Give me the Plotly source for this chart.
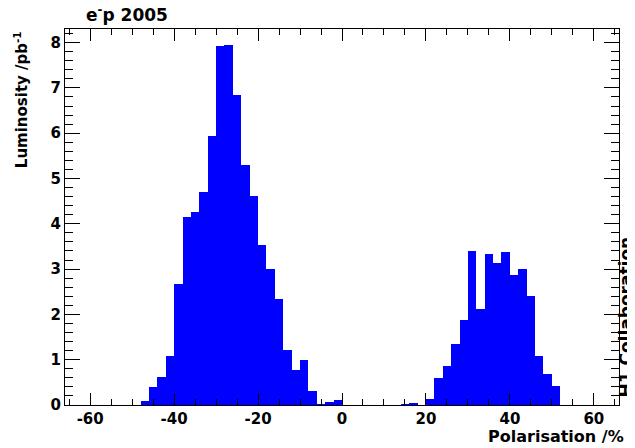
import plotly.graph_objects as go

# H1 e-p 2005: luminosity per 2% polarisation bin
bin_width = 2
pol_left = [-47, -45, -43, -41, -39, -37, -35, -33, -31, -29, -27, -25,
            -23, -21, -19, -17, -15, -13, -11, -9, -7, -5, -3, -1]
lumi_left = [0.09, 0.39, 0.61, 1.08, 2.68, 4.16, 4.26, 4.71, 5.93, 7.92, 7.95, 6.84,
             5.29, 4.62, 3.54, 3.00, 2.35, 1.21, 0.78, 1.00, 0.30, 0.02, 0.07, 0.11]
pol_right = [15, 17, 19, 21, 23, 25, 27, 29, 31, 33, 35, 37, 39, 41, 43, 45, 47, 49, 51]
lumi_right = [0.01, 0.05, 0.0, 0.14, 0.59, 0.86, 1.35, 1.87, 3.41, 2.13, 3.34, 3.13,
              3.38, 2.86, 3.01, 2.40, 1.09, 0.69, 0.41]
x_ticks = [-60, -40, -20, 0, 20, 40, 60]
y_ticks = [0, 1, 2, 3, 4, 5, 6, 7, 8]

pol = pol_left + pol_right
lumi = lumi_left + lumi_right

FONT = "DejaVu Sans"
tickfont = dict(family=FONT, size=15, color="black", weight="bold")

fig = go.Figure(go.Bar(x=pol, y=lumi, width=bin_width,
                       marker=dict(color="rgb(0,0,255)", line=dict(width=0))))

axis_common = dict(showline=True, linecolor="black", linewidth=1, mirror="ticks",
                   ticks="inside", tickcolor="black", showgrid=False,
                   zeroline=False, tickfont=tickfont)

fig.update_xaxes(range=[-66, 66], tickvals=x_ticks,
                 ticktext=["<b>%d</b>" % v for v in x_ticks], ticklen=12,
                 minor=dict(dtick=5, tick0=0, ticks="inside", ticklen=6, tickcolor="black"),
                 **axis_common)
fig.update_yaxes(range=[0, 8.3], tickvals=y_ticks,
                 ticktext=["<b>%d</b>" % v for v in y_ticks], ticklen=15,
                 minor=dict(dtick=0.2, tick0=0, ticks="inside", ticklen=8, tickcolor="black"),
                 **axis_common)

# page body adds an 8px margin, so the figure is 8px smaller each way
fig.update_layout(
    width=627, height=440,
    margin=dict(l=57, r=16, t=21, b=43),
    plot_bgcolor="white", paper_bgcolor="white",
    bargap=0, showlegend=False,
    font=dict(family=FONT, color="black"),
    annotations=[
        dict(text="<b>e<sup>-</sup>p 2005</b>", xref="paper", yref="paper",
             x=0.034, y=1.04, xanchor="left", yanchor="middle", showarrow=False,
             font=dict(size=17)),
        dict(text="<b>Luminosity /pb<sup>-1</sup></b>", xref="paper", yref="paper",
             x=-0.08, y=1.0, xanchor="center", yanchor="top", textangle=-90,
             showarrow=False, font=dict(size=15)),
        dict(text="<b>Polarisation /%</b>", xref="paper", yref="paper",
             x=1.012, y=-0.083, xanchor="right", yanchor="middle", showarrow=False,
             font=dict(size=16)),
        dict(text="<b>H1 Collaboration</b>", xref="paper", yref="paper",
             x=1.012, y=0.015, xanchor="center", yanchor="bottom", textangle=-90,
             showarrow=False, font=dict(size=17)),
    ],
)

fig.write_html("out.html")
